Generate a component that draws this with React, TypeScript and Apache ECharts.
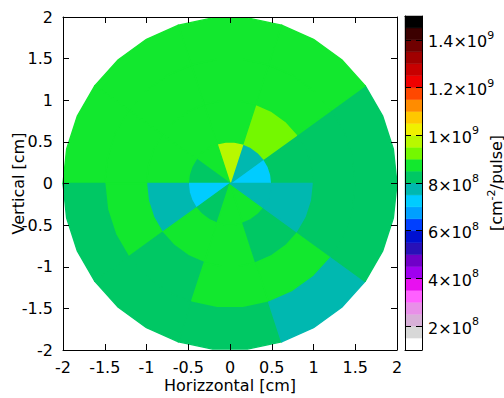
import React, { useEffect, useRef } from "react";
import * as echarts from "echarts";

// ---- data ----
// radial ring edges [cm] and angular sector edges [deg]
const ringEdges = [0, 0.5, 1.0, 1.5, 2.0];
const sectorEdges = [0, 36, 72, 108, 144, 180, 216, 252, 288, 324, 360];
// fluence per sector [cm^-2/pulse], counter-clockwise from +x
const ring1 = [7.2e8, 7.8e8, 9.7e8, 8.8e8, 8.2e8, 7.2e8, 8.2e8, 8.8e8, 8.8e8, 7.8e8];
const ring2 = [8.2e8, 9.3e8, 8.8e8, 8.8e8, 8.8e8, 7.8e8, 8.8e8, 8.8e8, 8.2e8, 7.8e8];
const ring3 = [8.2e8, 8.8e8, 8.8e8, 8.8e8, 8.8e8, 8.8e8, 8.2e8, 8.8e8, 8.8e8, 8.2e8];
const ring4 = [8.2e8, 8.8e8, 8.8e8, 8.8e8, 8.8e8, 8.2e8, 8.2e8, 8.2e8, 7.8e8, 8.2e8];
const rings = [ring1, ring2, ring3, ring4];

// axis ticks
const axisTicks = [-2, -1.5, -1, -0.5, 0, 0.5, 1, 1.5, 2];
// colour box
const cbMin = 1e8;
const cbMax = 1.5e9;
const cbStep = 5e7;
const cbTicks = [2e8, 4e8, 6e8, 8e8, 1e9, 1.2e9, 1.4e9];
const palette = [
  "#ffffff", "#d8d8d8", "#d8b0d8", "#e890e8", "#ff60ff", "#e810f0", "#a000f0",
  "#7000c8", "#2810b8", "#0010d0", "#0040ff", "#00a0ff", "#00ccff", "#00b8b0",
  "#00c864", "#12e82e", "#74f800", "#b8f800", "#f0f000", "#ffc800", "#ff8c00",
  "#ff4800", "#f00000", "#c80000", "#a00000", "#700000", "#3c0000", "#000000",
];

const FONT = "DejaVu Sans";
const FS = 16;
const SUP = 11;
const ARC_STEP = 12; // deg per polygon segment

export default function App() {
  const ref = useRef<HTMLDivElement>(null);
  useEffect(() => {
    if (!ref.current) return;
    document.body.style.margin = "0";
    const chart = echarts.init(ref.current, undefined, { renderer: "svg" });

    const diskData: number[][] = [];
    rings.forEach((vals, ri) => vals.forEach((v, si) => diskData.push([ri, si, v])));
    const boxData = palette.map((_, i) => [0, cbMin + i * cbStep, i]);

    const tickStyle = { color: "#000", width: 1 };
    const mainAxisCommon = {
      type: "value",
      gridIndex: 0,
      min: -2,
      max: 2,
      interval: 0.5,
      z: 10,
      nameMoveOverlap: false,
      axisLine: { show: true, onZero: false, lineStyle: tickStyle },
      axisTick: { show: true, inside: true, length: 6, lineStyle: tickStyle },
      splitLine: { show: false },
    };
    const labelStyle = { color: "#000", fontSize: FS, fontFamily: FONT };

    const option: any = {
      animation: false,
      backgroundColor: "#fff",
      textStyle: { fontFamily: FONT },
      grid: [
        { left: 63, top: 17, width: 334, height: 333, containLabel: false, outerBoundsMode: "none" },
        { left: 405, top: 16, width: 17, height: 334, containLabel: false, outerBoundsMode: "none" },
      ],
      visualMap: {
        type: "piecewise",
        show: false,
        seriesIndex: 0,
        dimension: 2,
        pieces: palette.map((c, i) => ({ gte: cbMin + i * cbStep, lt: cbMin + (i + 1) * cbStep, color: c })),
      },
      xAxis: [
        {
          ...mainAxisCommon,
          position: "bottom",
          axisLabel: { ...labelStyle, margin: 9, customValues: axisTicks },
          name: "Horizzontal [cm]",
          nameLocation: "middle",
          nameGap: 27,
          nameTextStyle: labelStyle,
        },
        { ...mainAxisCommon, position: "top", axisLabel: { show: false } },
        {
          type: "value", gridIndex: 1, min: 0, max: 1, position: "bottom", z: 10,
          axisLine: { show: true, onZero: false, lineStyle: tickStyle },
          axisTick: { show: false }, axisLabel: { show: false }, splitLine: { show: false },
        },
        {
          type: "value", gridIndex: 1, min: 0, max: 1, position: "top", z: 10,
          axisLine: { show: true, onZero: false, lineStyle: tickStyle },
          axisTick: { show: false }, axisLabel: { show: false }, splitLine: { show: false },
        },
      ],
      yAxis: [
        {
          ...mainAxisCommon,
          position: "left",
          axisLabel: { ...labelStyle, margin: 10 },
          name: "Vertical [cm]",
          nameLocation: "middle",
          nameGap: 37,
          nameRotate: 90,
          nameTextStyle: labelStyle,
        },
        { ...mainAxisCommon, position: "right", axisLabel: { show: false } },
        {
          type: "value", gridIndex: 1, min: cbMin, max: cbMax, position: "left", z: 10,
          axisLine: { show: true, onZero: false, lineStyle: tickStyle },
          axisTick: { show: true, inside: true, length: 6, lineStyle: tickStyle, customValues: cbTicks },
          axisLabel: { show: false }, splitLine: { show: false },
        },
        {
          type: "value", gridIndex: 1, min: cbMin, max: cbMax, position: "right", z: 10,
          nameMoveOverlap: false,
          axisLine: { show: true, onZero: false, lineStyle: tickStyle },
          axisTick: { show: true, inside: true, length: 6, lineStyle: tickStyle, customValues: cbTicks },
          axisLabel: {
            show: true,
            margin: 6,
            customValues: cbTicks,
            formatter: (v: number) => {
              const e = Math.floor(Math.log10(v) + 1e-9);
              const m = Number((v / Math.pow(10, e)).toPrecision(3));
              return `{m|${m}×10}{e|${e}}`;
            },
            rich: {
              m: { ...labelStyle, verticalAlign: "bottom", lineHeight: 20 },
              e: { color: "#000", fontSize: SUP, fontFamily: FONT, verticalAlign: "top", lineHeight: 20 },
            },
          },
          splitLine: { show: false },
          name: "{a|[cm}{s|-2}{a|/pulse]}",
          nameLocation: "middle",
          nameGap: 64,
          nameRotate: 90,
          nameTextStyle: {
            rich: {
              a: { ...labelStyle, verticalAlign: "bottom", lineHeight: 18 },
              s: { color: "#000", fontSize: SUP, fontFamily: FONT, verticalAlign: "top", lineHeight: 18 },
            },
          },
        },
      ],
      series: [
        {
          type: "custom",
          xAxisIndex: 0,
          yAxisIndex: 0,
          data: diskData,
          encode: { x: 0, y: 1 },
          renderItem: (params: any, api: any) => {
            const ri = api.value(0);
            const si = api.value(1);
            const r0 = ringEdges[ri];
            const r1 = ringEdges[ri + 1];
            const a0 = sectorEdges[si];
            const a1 = sectorEdges[si + 1];
            const n = Math.max(1, Math.round((a1 - a0) / ARC_STEP));
            const pts: number[][] = [];
            for (let k = 0; k <= n; k++) {
              const a = ((a0 + ((a1 - a0) * k) / n) * Math.PI) / 180;
              pts.push(api.coord([r1 * Math.cos(a), r1 * Math.sin(a)]));
            }
            if (r0 === 0) {
              pts.push(api.coord([0, 0]));
            } else {
              for (let k = n; k >= 0; k--) {
                const a = ((a0 + ((a1 - a0) * k) / n) * Math.PI) / 180;
                pts.push(api.coord([r0 * Math.cos(a), r0 * Math.sin(a)]));
              }
            }
            const c = api.visual("color");
            return {
              type: "polygon",
              shape: { points: pts },
              style: { fill: c, stroke: c, lineWidth: 1.4, lineJoin: "round" },
            };
          },
        },
        {
          type: "custom",
          xAxisIndex: 2,
          yAxisIndex: 2,
          data: boxData,
          encode: { x: 0, y: 1 },
          renderItem: (params: any, api: any) => {
            const lo = api.value(1);
            const i = api.value(2);
            const p0 = api.coord([0, lo + cbStep]);
            const p1 = api.coord([1, lo]);
            return {
              type: "rect",
              shape: { x: p0[0], y: p0[1], width: p1[0] - p0[0], height: p1[1] - p0[1] },
              style: { fill: palette[i], stroke: palette[i], lineWidth: 0.5 },
            };
          },
        },
      ],
    };
    chart.setOption(option);
    return () => chart.dispose();
  }, []);
  return <div ref={ref} style={{ width: 504, height: 398 }} />;
}
